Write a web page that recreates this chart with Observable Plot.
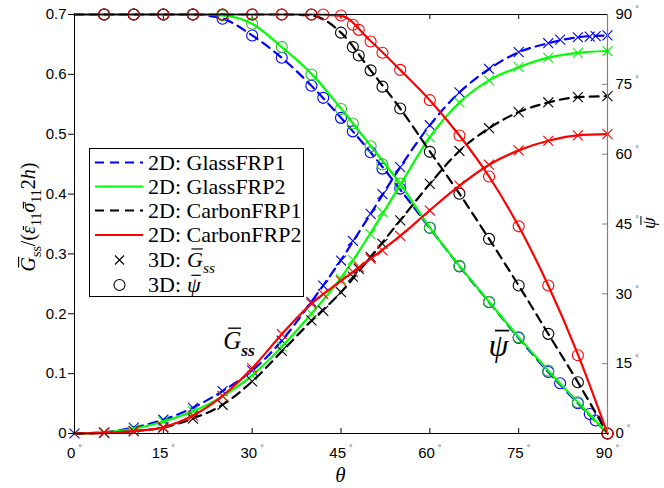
<!DOCTYPE html>
<html><head><meta charset="utf-8">
<script src="https://cdn.jsdelivr.net/npm/d3@7"></script>
<script src="https://cdn.jsdelivr.net/npm/@observablehq/plot@0.6"></script>
<style>
body{margin:0;background:#fff;}
#wrap{width:664px;height:488px;}
</style></head><body><div id="wrap"></div>
<script>
// ---------- data ----------
const xTicks = [0, 15, 30, 45, 60, 75, 90];
const gTicks = [0, 0.1, 0.2, 0.3, 0.4, 0.5, 0.6, 0.7];
const psiTicks = [0, 15, 30, 45, 60, 75, 90];
const PSI = 0.7 / 90; // psi (deg) -> left-axis units

// 2D (lines)
const theta2D = [0,5,10,15,20,25,30,35,40,45,50,55,60,65,70,75,80,85,90];
const gGlass1  = [0,0.002,0.01,0.023,0.043,0.071,0.105,0.155,0.22,0.29,0.367,0.445,0.515,0.57,0.609,0.637,0.652,0.662,0.665];
const gGlass2  = [0,0.002,0.008,0.02,0.037,0.062,0.097,0.145,0.2,0.26,0.335,0.415,0.495,0.553,0.59,0.612,0.628,0.636,0.639];
const gCarbon1 = [0,0.001,0.004,0.01,0.025,0.048,0.087,0.137,0.188,0.236,0.295,0.356,0.417,0.472,0.51,0.537,0.553,0.562,0.5635];
const gCarbon2 = [0,0.001,0.004,0.0105,0.03,0.063,0.109,0.166,0.217,0.255,0.292,0.33,0.373,0.414,0.449,0.473,0.489,0.498,0.50];
const psiGlass1  = [90,90,90,90,90,89.1,85.5,80.7,74.7,67.8,60.4,52.4,44.1,35.9,28.2,20.5,13.2,6.5,0];
const psiGlass2  = [90,90,90,90,90,89.8,88,83,77.3,69.8,61.8,53.6,44.2,36,28.3,20.7,13.5,6.7,0];
const psiCarbon1 = [90,90,90,90,90,90,90,90,89.8,86.1,78,69.8,60.6,51.5,41.8,31.8,21.4,11,0];
const psiCarbon2 = [90,90,90,90,90,90,90,90,90,89.7,84.3,78.1,71.6,64,55.2,44.5,31.8,17,0];

// 3D (markers)
const t3Glass1 = [0,5,10,15,20,25,30,35,40,42,45,47,50,52,55,60,65,70,75,80,82,85,87,88,90];
const g3Glass1 = [0,0.002,0.01,0.023,0.043,0.071,0.105,0.155,0.22,0.247,0.289,0.322,0.367,0.40,0.445,0.515,0.57,0.609,0.637,0.652,0.658,0.662,0.663,0.664,0.665];
const p3Glass1 = [null,90,90,90,90,89.1,85.5,80.7,74.7,72.1,67.8,64.9,60.4,56.9,52.6,44.2,35.9,28.2,20.5,13.2,10.8,6.5,4.2,2.8,0];

const t3Glass2 = [5,10,15,20,25,30,35,40,45,47,50,52,55,60,65,70,75,80,85,90];
const g3Glass2 = [0.002,0.008,0.02,0.037,0.062,0.097,0.145,0.2,0.258,0.29,0.333,0.37,0.415,0.495,0.553,0.59,0.612,0.628,0.636,0.639];
const p3Glass2 = [90,90,90,90,89.8,88,83,77.1,69.7,66.6,61.7,57.8,53.7,44.2,36,28.3,20.7,13.5,6.7,0];

const t3Carbon1 = [5,10,15,20,25,30,35,40,42,45,47,48,50,52,55,60,65,70,75,80,85,90];
const g3Carbon1 = [0.001,0.004,0.01,0.025,0.048,0.087,0.138,0.189,0.205,0.236,0.262,0.275,0.295,0.317,0.356,0.417,0.472,0.51,0.537,0.553,0.562,0.5635];
const p3Carbon1 = [90,90,90,90,90,90,90,90,null,86.1,83,81.2,78,74.5,69.8,60.5,51.5,41.8,31.8,21.4,11,0];

const t3Carbon2 = [5,10,15,20,25,30,35,40,42,45,47,48,50,52,55,60,65,70,75,80,85,90];
const g3Carbon2 = [0.001,0.004,0.0105,0.03,0.063,0.109,0.166,0.217,0.233,0.255,0.27,0.278,0.292,0.306,0.33,0.3725,0.414,0.449,0.473,0.489,0.498,0.50];
const p3Carbon2 = [90,90,90,90,90,90,90,90,90,89.8,87.8,86.7,84.2,81.8,78.1,71.6,64,55.2,44.5,31.8,16.8,0];

const names  = ["2D: GlassFRP1","2D: GlassFRP2","2D: CarbonFRP1","2D: CarbonFRP2"];
const colors = ["#0000ff","#00ff00","#000000","#ff0000"];
const circleColors = ["#0000ff","#22c022","#000000","#ff0000"];
const dashes = ["9,6",null,"9,6",null];

const series = [
  {g2:gGlass1, p2:psiGlass1, t3:t3Glass1, g3:g3Glass1, p3:p3Glass1},
  {g2:gGlass2, p2:psiGlass2, t3:t3Glass2, g3:g3Glass2, p3:p3Glass2},
  {g2:gCarbon1, p2:psiCarbon1, t3:t3Carbon1, g3:g3Carbon1, p3:p3Carbon1},
  {g2:gCarbon2, p2:psiCarbon2, t3:t3Carbon2, g3:g3Carbon2, p3:p3Carbon2}
];

// ---------- marks ----------
const W = 664, H = 488, ML = 74, MR = 57, MT = 14, MB = 55;
const FW = W - ML - MR, FH = H - MT - MB;
const marks = [];
series.forEach((s, k) => {
  const i2 = d3.range(theta2D.length);
  const i3 = d3.range(s.t3.length);
  marks.push(Plot.line(i2, {x: i => theta2D[i], y: i => s.g2[i], stroke: colors[k], strokeWidth: 2.2, strokeDasharray: dashes[k], curve: "monotone-x"}));
  marks.push(Plot.line(i2, {x: i => theta2D[i], y: i => s.p2[i] * PSI, stroke: colors[k], strokeWidth: 2.2, strokeDasharray: dashes[k], curve: "monotone-x"}));
  marks.push(Plot.dot(i3, {x: i => s.t3[i], y: i => s.g3[i], symbol: "times", r: 4.6, stroke: colors[k], strokeWidth: 1.1}));
  marks.push(Plot.dot(i3.filter(i => s.p3[i] != null), {x: i => s.t3[i], y: i => s.p3[i] * PSI, symbol: "circle", r: 5.5, fill: "none", stroke: circleColors[k], strokeWidth: 1.1}));
});

const plot = Plot.plot({
  width: W, height: H,
  marginLeft: ML, marginRight: MR, marginTop: MT, marginBottom: MB,
  x: {domain: [0, 90]},
  y: {domain: [0, 0.7]},
  style: {fontFamily: "'Liberation Sans', Arial, sans-serif", fontSize: "15px", color: "#000", background: "#fff", overflow: "visible"},
  marks: [
    Plot.axisX({ticks: xTicks, tickSize: 0, tickPadding: 14, tickFormat: d => d + "°", label: null}),
    Plot.axisY({ticks: gTicks, tickSize: 6, tickPadding: 2, tickFormat: d => d === 0 ? "0" : d.toFixed(1), label: null}),
    Plot.axisY({anchor: "right", ticks: psiTicks.map(d => d * PSI), tickSize: 0, tickPadding: 8,
      tickFormat: d => Math.round(d / PSI) + "°", label: null}),
    Plot.tickX(xTicks, {x: d => d, insetTop: FH - 5, stroke: "#000"}),
    Plot.tickX(xTicks, {x: d => d, insetBottom: FH - 5, stroke: "#000"}),
    Plot.tickY(psiTicks, {y: d => d * PSI, insetLeft: FW - 5, stroke: "#808080"}),
    ...marks,
    Plot.frame({stroke: "#000"}),
    Plot.ruleX([90], {stroke: "#808080", strokeWidth: 1.2})
  ]
});
document.getElementById("wrap").appendChild(plot);

// ---------- decorations ----------
const svg = d3.select(plot);
svg.selectAll("text").each(function() {
  const t = d3.select(this);
  const s = t.text();
  if (s.endsWith("°")) {
    t.text(s.slice(0, -1));
    t.append("tspan").attr("font-size", 9).attr("dx", 3).attr("dy", -7).attr("fill", "#555").text("°");
  }
});

const SERIF = "'Liberation Serif', 'Times New Roman', serif";
// math text helper: parts = [{t, it, sub, bar, bold}]
function mathText(x, y, rot, size, parts, anchor) {
  const g = svg.append("g").attr("transform", `translate(${x},${y}) rotate(${rot})`);
  const text = g.append("text").attr("x", 0).attr("y", 0).attr("font-family", SERIF)
    .attr("font-size", size).attr("text-anchor", anchor).attr("fill", "#000");
  let base = 0;
  const spans = parts.map(p => {
    const target = p.sub ? 0.28 * size : 0;
    const sp = text.append("tspan").attr("dy", target - base).text(p.t);
    base = target;
    if (p.sub) sp.attr("font-size", size * 0.7);
    if (p.it) sp.attr("font-style", "italic");
    if (p.bold) sp.attr("font-weight", "bold");
    return sp;
  });
  parts.forEach((p, i) => {
    if (!p.bar) return;
    const bb = spans[i].node().getBBox();
    const sh = 0.12 * size, pad = 0.08 * size;
    g.append("line").attr("x1", bb.x + pad + sh).attr("x2", bb.x + bb.width - pad + sh * 0.6)
      .attr("y1", -p.bar * size).attr("y2", -p.bar * size)
      .attr("stroke", "#000").attr("stroke-width", Math.max(1, 0.055 * size));
  });
  return g;
}

// left y label
mathText(35, 217, -90, 20, [
  {t: "G", it: true, bar: 0.82}, {t: "ss", sub: true}, {t: "/("},
  {t: "ε", it: true, bar: 0.58}, {t: "11", sub: true},
  {t: "σ", it: true, bar: 0.58}, {t: "11", sub: true},
  {t: "2"}, {t: "h", it: true}, {t: ")"}
], "middle");
// right y label
mathText(655, 223, -90, 19, [{t: "ψ", it: true, bar: 0.74}], "middle");
// x label
mathText(ML + FW / 2, 482, 0, 21, [{t: "θ", it: true}], "middle");

// annotations, positioned through the scales
const sx = plot.scale("x"), sy = plot.scale("y");
mathText(sx.apply(25.2), sy.apply(0.14), 0, 25, [{t: "G", it: true, bar: 0.84}, {t: "ss", sub: true, it: true, bold: true}], "start");
mathText(sx.apply(70.0), sy.apply(16.5 * PSI), 0, 32, [{t: "ψ", it: true, bar: 0.8}], "start");

// legend
const LF = 22;
const lg = svg.append("g").attr("font-family", SERIF).attr("font-size", LF);
lg.append("rect").attr("x", 89.5).attr("y", 148.5).attr("width", 214).attr("height", 148)
  .attr("fill", "#fff").attr("stroke", "#000");
const rowsY = [162.5, 186.5, 210.5, 235, 260, 285];
names.forEach((n, k) => {
  lg.append("line").attr("x1", 95).attr("x2", 143).attr("y1", rowsY[k]).attr("y2", rowsY[k])
    .attr("stroke", colors[k]).attr("stroke-width", 2.2).attr("stroke-dasharray", dashes[k]);
  lg.append("text").attr("x", 148).attr("y", rowsY[k] + 7).attr("text-anchor", "start").text(n);
});
lg.append("path").attr("d", `M115,${rowsY[4]-4.5}l9,9M115,${rowsY[4]+4.5}l9,-9`).attr("stroke", "#000").attr("stroke-width", 1.1);
lg.append("circle").attr("cx", 119.5).attr("cy", rowsY[5]).attr("r", 5.5).attr("fill", "none").attr("stroke", "#000").attr("stroke-width", 1.1);
lg.append("text").attr("x", 148).attr("y", rowsY[4] + 7).attr("text-anchor", "start").text("3D:");
lg.append("text").attr("x", 148).attr("y", rowsY[5] + 7).attr("text-anchor", "start").text("3D:");
mathText(187, rowsY[4] + 7, 0, LF, [{t: "G", it: true, bar: 0.82}, {t: "ss", sub: true, it: true}], "start");
mathText(187, rowsY[5] + 7, 0, LF, [{t: "ψ", it: true, bar: 0.76}], "start");
</script></body></html>
